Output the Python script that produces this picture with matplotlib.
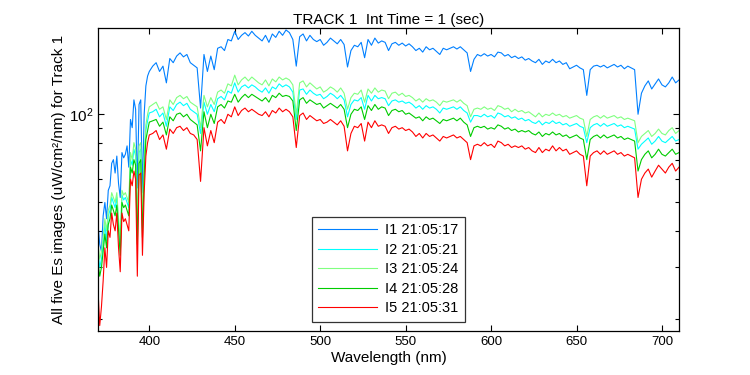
import matplotlib
matplotlib.use("Agg")
import matplotlib.pyplot as plt
from matplotlib.ticker import NullFormatter, FixedLocator, LogLocator

plt.rcParams['font.family'] = ['Liberation Sans', 'DejaVu Sans']

wavelength = list(range(370, 401)) + list(range(402, 711, 2))

# low region 370-400 (1 nm) then 402-710 (2 nm)
i1 = [42, 36, 34, 45, 50, 44, 55, 57, 68, 70, 63, 72, 58, 52, 74, 71, 73, 78, 66, 96,
      90, 112, 104, 56, 108, 112, 54, 100, 125, 135, 140,
      146, 150, 140, 146, 128, 155, 150, 158, 162, 157, 160, 150, 147, 144, 105, 160, 140, 158, 142, 168,
      170, 165, 180, 178, 192, 180, 186, 190, 185, 192, 186, 182, 178, 186, 176, 188, 183, 192, 186, 194,
      190, 180, 146, 184, 188, 178, 186, 180, 177, 180, 172, 176, 182, 178, 174, 180, 173, 145, 165, 172,
      170, 176, 156, 180, 172, 182, 175, 178, 176, 165, 174, 176, 172, 175, 171, 174, 170, 165, 168, 163,
      170, 166, 168, 164, 160, 168, 166, 168, 170, 167, 170, 166, 162, 140, 154, 160, 158, 161, 158, 160,
      157, 163, 162, 158, 160, 156, 158, 155, 157, 153, 155, 152, 150, 154, 148, 152, 150, 154, 150, 152,
      148, 150, 143, 145, 147, 144, 142, 116, 142, 146, 147, 145, 147, 144, 146, 148, 145, 147, 143, 146,
      144, 142, 100, 118, 125, 130, 122, 127, 132, 126, 124, 128, 134, 128, 131]
i3 = [36, 32, 34, 38, 44, 40, 47, 49, 54, 52, 50, 54, 44, 37, 55, 53, 54, 52, 50, 74,
      70, 80, 76, 42, 78, 80, 44, 70, 92, 100, 106,
      108, 110, 104, 106, 96, 112, 108, 114, 116, 113, 115, 110, 108, 106, 90, 116, 106, 114, 108, 119,
      121, 118, 127, 125, 136, 126, 131, 134, 130, 134, 131, 128, 126, 131, 125, 132, 129, 134, 131, 133,
      131, 126, 100, 128, 130, 124, 128, 125, 122, 124, 119, 121, 124, 122, 119, 123, 118, 104, 114, 118,
      117, 121, 110, 122, 118, 123, 119, 121, 120, 113, 118, 119, 116, 118, 115, 116, 114, 111, 113, 110,
      113, 111, 112, 110, 107, 111, 110, 111, 112, 110, 112, 109, 107, 98, 104, 105, 104, 106, 104, 105,
      103, 107, 106, 104, 105, 102, 104, 102, 103, 101, 102, 100, 98, 101, 98, 100, 99, 101, 99, 100,
      98, 99, 97, 98, 99, 97, 96, 84, 96, 98, 99, 97, 99, 97, 98, 99, 97, 98, 96, 97,
      96, 95, 80, 84, 86, 88, 84, 86, 89, 86, 85, 88, 90, 86, 88]
i2 = [34, 30, 32, 36, 42, 37, 45, 47, 52, 50, 48, 52, 42, 35, 53, 51, 52, 50, 48, 70,
      67, 76, 72, 40, 74, 76, 41, 67, 88, 95, 101,
      102, 104, 98, 101, 91, 106, 103, 108, 110, 107, 109, 104, 102, 100, 86, 110, 100, 108, 102, 113,
      115, 112, 120, 118, 128, 119, 124, 126, 123, 126, 124, 121, 119, 123, 118, 124, 122, 127, 124, 126,
      124, 119, 96, 121, 122, 117, 121, 118, 116, 117, 113, 115, 118, 116, 113, 116, 112, 98, 108, 112,
      111, 114, 104, 116, 111, 116, 113, 114, 113, 107, 111, 112, 110, 111, 109, 110, 108, 105, 107, 104,
      107, 105, 106, 104, 101, 105, 104, 105, 106, 104, 106, 103, 101, 94, 99, 99, 98, 100, 98, 99,
      97, 101, 100, 98, 99, 97, 98, 96, 97, 95, 96, 94, 93, 95, 92, 94, 93, 95, 93, 94,
      92, 93, 91, 92, 93, 91, 90, 80, 90, 92, 93, 91, 93, 91, 92, 93, 91, 92, 90, 91,
      90, 89, 76, 79, 81, 83, 79, 81, 84, 81, 80, 82, 84, 81, 82]
i4 = [31, 28, 30, 34, 39, 35, 42, 44, 49, 47, 45, 49, 40, 33, 50, 48, 49, 47, 45, 66,
      63, 70, 67, 36, 68, 70, 38, 62, 82, 88, 94,
      95, 96, 91, 94, 85, 98, 95, 100, 101, 98, 100, 96, 94, 92, 75, 102, 90, 100, 93, 106,
      108, 105, 111, 110, 117, 110, 114, 117, 114, 117, 115, 113, 111, 114, 110, 116, 114, 118, 115, 116,
      115, 111, 88, 112, 114, 109, 112, 110, 108, 109, 105, 107, 109, 107, 105, 108, 104, 90, 100, 104,
      103, 106, 96, 107, 103, 108, 104, 106, 105, 99, 103, 104, 102, 103, 100, 101, 99, 97, 98, 95,
      98, 96, 97, 95, 93, 96, 95, 96, 97, 95, 97, 94, 92, 84, 90, 91, 90, 91, 89, 90,
      89, 92, 91, 89, 90, 88, 89, 87, 88, 87, 88, 86, 85, 87, 84, 86, 85, 87, 85, 86,
      84, 85, 83, 84, 85, 83, 82, 70, 82, 84, 85, 83, 85, 83, 84, 85, 83, 84, 82, 83,
      82, 81, 64, 70, 73, 75, 71, 73, 76, 73, 72, 74, 76, 73, 74]
i5 = [25, 19, 22, 27, 35, 30, 40, 38, 46, 42, 40, 46, 35, 29, 46, 43, 44, 42, 40, 60,
      57, 64, 60, 28, 62, 63, 33, 54, 72, 80, 85,
      86, 88, 82, 85, 76, 89, 86, 90, 91, 88, 90, 86, 85, 82, 59, 90, 78, 88, 80, 94,
      96, 93, 100, 98, 106, 99, 103, 105, 102, 104, 102, 100, 99, 102, 98, 103, 101, 105, 102, 104,
      102, 98, 77, 99, 101, 96, 99, 97, 95, 96, 93, 94, 96, 94, 92, 95, 91, 75, 86, 91,
      90, 93, 81, 94, 90, 95, 91, 92, 91, 86, 90, 91, 89, 90, 88, 89, 87, 84, 86, 83,
      86, 84, 85, 83, 81, 84, 83, 84, 85, 83, 84, 82, 80, 70, 78, 79, 78, 80, 78, 79,
      77, 81, 80, 78, 79, 77, 78, 77, 78, 76, 77, 75, 74, 77, 74, 76, 75, 78, 75, 77,
      75, 76, 73, 74, 75, 73, 72, 57, 72, 74, 75, 73, 75, 73, 74, 75, 73, 74, 72, 73,
      72, 71, 52, 60, 63, 65, 61, 64, 67, 65, 63, 66, 68, 64, 66]

labels = ['I1 21:05:17', 'I2 21:05:21', 'I3 21:05:24', 'I4 21:05:28', 'I5 21:05:31']
colors = ['#0080FF', '#00FFFF', '#80FF80', '#00CC00', '#FF0000']
series = [i1, i2, i3, i4, i5]

fig = plt.figure(figsize=(7.5, 3.75), dpi=100)
ax = fig.add_axes([0.1307, 0.1173, 0.7747, 0.808])
for s, c, lab in zip(series, colors, labels):
    ax.plot(wavelength, s, color=c, lw=0.8, label=lab)

ax.set_yscale('log')
ax.set_xlim(370, 710)
ax.set_ylim(18.2, 197)
ax.set_xticks([400, 450, 500, 550, 600, 650, 700])
ax.yaxis.set_major_locator(FixedLocator([100]))
ax.yaxis.set_minor_locator(LogLocator(base=10, subs=range(2, 10)))
ax.yaxis.set_minor_formatter(NullFormatter())
ax.tick_params(which='both', direction='in', top=True, right=True, labelsize=9.5)
ax.tick_params(axis='y', which='major', labelsize=11)
ax.tick_params(which='major', length=4, width=0.8)
ax.tick_params(which='minor', length=3, width=0.8)
for sp in ax.spines.values():
    sp.set_linewidth(0.9)

ax.set_xlabel('Wavelength (nm)', fontsize=11, labelpad=2)
ax.set_ylabel('All five Es images (uW/cm\u00b2/nm) for Track 1', fontsize=11, labelpad=2)
ax.set_title('TRACK 1  Int Time = 1 (sec)', fontsize=11, pad=3)

leg = ax.legend(loc='lower left', bbox_to_anchor=(0.368, 0.03), fontsize=10.5,
                frameon=True, fancybox=False, edgecolor='black', borderaxespad=0,
                handlelength=4.0, handletextpad=0.55, labelspacing=0.38, borderpad=0.45)
leg.get_frame().set_linewidth(0.9)

fig.savefig('out.png', dpi=100)
